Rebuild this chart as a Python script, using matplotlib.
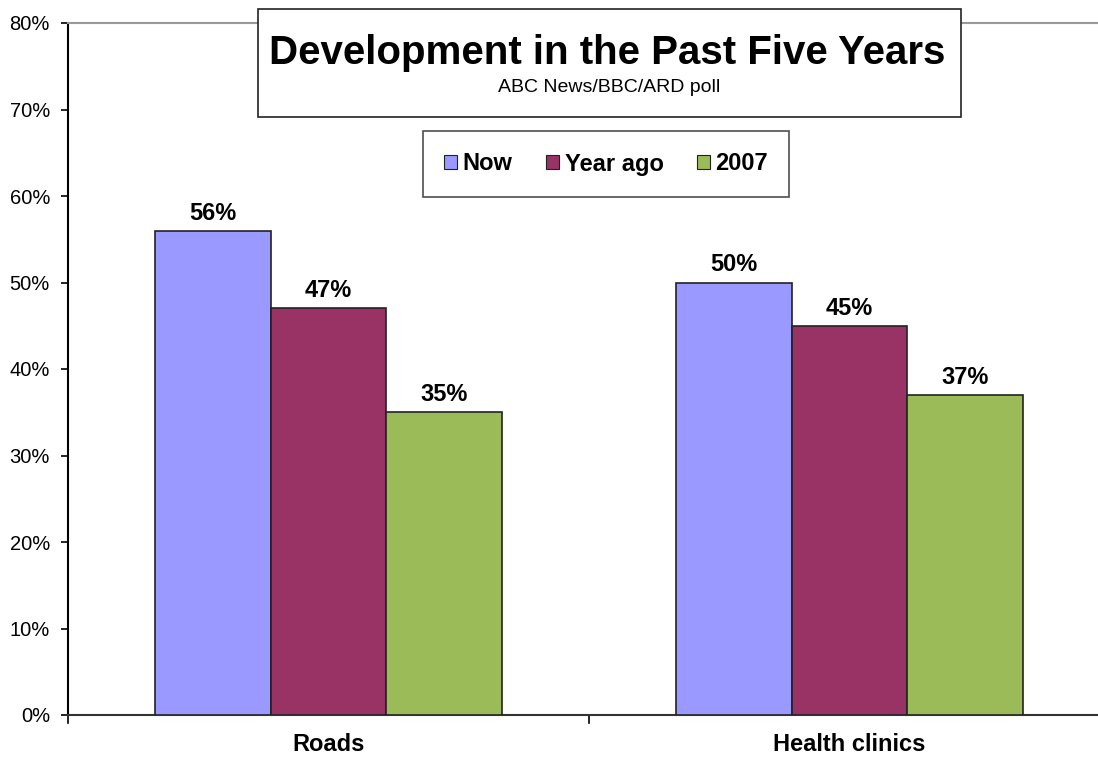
import numpy as np
import matplotlib
matplotlib.use("Agg")
from matplotlib import pyplot as plt
from matplotlib.patches import Patch

categories = ["Roads", "Health clinics"]
series_names = ["Now", "Year ago", "2007"]
now = [56, 50]
year_ago = [47, 45]
y2007 = [35, 37]
colors = ["#9999FF", "#993366", "#9BBB59"]

plt.rcParams['font.family'] = ['Liberation Sans', 'DejaVu Sans']

fig = plt.figure(figsize=(10.98, 7.59), dpi=100)
ax = fig.add_axes([68 / 1098, 44 / 759, 1042 / 1098, 692 / 759])

x = np.arange(len(categories))
w = 1 / 4.5
for i, (vals, c) in enumerate(zip([now, year_ago, y2007], colors)):
    pos = x + (i - 1) * w
    ax.bar(pos, vals, width=w, color=c, edgecolor="#222222", linewidth=1.2, zorder=3)
    for p, v in zip(pos, vals):
        ax.text(p, v + 0.7, f"{v}%", ha="center", va="bottom",
                fontsize=17, fontweight="bold")

ax.set_xlim(-0.5, len(categories) - 0.5)
ax.set_ylim(0, 80)
ax.set_yticks(range(0, 81, 10))
ax.set_yticklabels([f"{t}%" for t in range(0, 81, 10)], fontsize=14.5)
ax.set_xticks(x)
ax.set_xticklabels(categories, fontsize=17, fontweight="bold")
ax.tick_params(axis="x", length=0, pad=13)
ax.tick_params(axis="y", length=5, width=1.2, direction="out", pad=8)
# category separators
for b in np.arange(-0.5, len(categories), 1.0):
    ax.plot([b, b], [0, -0.9], color="black", lw=1.2, clip_on=False)

ax.spines["right"].set_visible(False)
ax.spines["top"].set_color("#999999")
ax.spines["top"].set_linewidth(1.5)
ax.spines["left"].set_linewidth(1.5)
ax.spines["bottom"].set_linewidth(1.5)
ax.spines["bottom"].set_color("#333333")

# title box
fig.patches.append(plt.Rectangle((258 / 1098, 1 - 117 / 759), 703 / 1098, 108 / 759,
                                 transform=fig.transFigure, facecolor="white",
                                 edgecolor="#222222", linewidth=1.2, zorder=5))
fig.text(607 / 1098, 1 - 53 / 759, "Development in the Past Five Years",
         ha="center", va="center", fontsize=29, fontweight="bold", zorder=6)
fig.text(609 / 1098, 1 - 88 / 759, "ABC News/BBC/ARD poll",
         ha="center", va="center", fontsize=14, zorder=6)

handles = [Patch(facecolor=c, edgecolor="#222222", linewidth=0.8) for c in colors]
leg = fig.legend(handles, series_names, loc="center", ncol=3,
                 bbox_to_anchor=(606 / 1098, 1 - 164 / 759),
                 prop={"size": 17, "weight": "bold"}, frameon=True,
                 fancybox=False, edgecolor="#222222", handlelength=0.55,
                 handleheight=0.55, handletextpad=0.25, columnspacing=1.4,
                 borderpad=0.9, borderaxespad=0)
leg.get_frame().set_linewidth(1.2)
leg.set_zorder(6)

fig.savefig("out.png", dpi=100)
